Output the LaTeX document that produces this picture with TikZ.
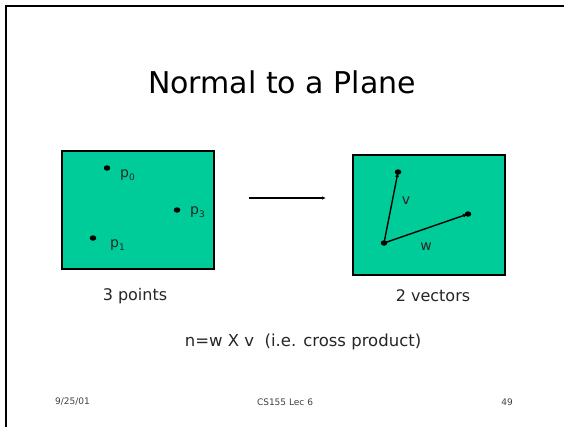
\documentclass[tikz,border=0pt]{standalone}
\usepackage{fontspec}
\setmainfont{DejaVu Sans}
\usetikzlibrary{arrows.meta,shapes.geometric}
\definecolor{plane}{HTML}{00CC99}
\newcommand{\sbs}[1]{\raisebox{-0.25em}{\fontsize{9}{10}\selectfont #1}}
\begin{document}
\begin{tikzpicture}[x=1pt,y=-1pt,
  planebox/.style={draw=black,line width=1.6pt,fill=plane},
  dot/.style={ellipse,fill=black,inner sep=0pt,minimum width=6.5pt,minimum height=5.5pt},
  lbl/.style={font=\fontsize{14}{16}\selectfont,inner sep=0pt,text=black!85},
  body/.style={font=\fontsize{16}{18}\selectfont,inner sep=0pt,text=black!85},
  vec/.style={line width=1.4pt,-{Latex[length=5pt,width=4pt]}},
  foot/.style={font=\fontsize{9}{10}\selectfont,text=black!75,inner sep=0pt}]
\useasboundingbox (0,0) rectangle (564,426);
\fill[white] (0,0) rectangle (564,426);
\draw[line width=2pt] (6,430) -- (6,6) -- (568,6);
\node[font=\fontsize{30}{36}\selectfont,inner sep=0pt] (title) at (282,82) {Normal to a Plane};
% left plane
\node[planebox,minimum width=152pt,minimum height=118pt,inner sep=0pt] (lbox) at (138,210) {};
\node[dot] (p0) at (107,168) {};
\node[dot] (p3) at (177,210) {};
\node[dot] (p1) at (93,238) {};
\node[lbl,anchor=west] (lp0) at (120,175) {p\sbs{0}};
\node[lbl,anchor=west] (lp3) at (190,212) {p\sbs{3}};
\node[lbl,anchor=west] (lp1) at (110,245) {p\sbs{1}};
% arrow
\coordinate (a1) at (249,198);
\coordinate (a2) at (326,198);
\draw[line width=1.2pt,-{Latex[length=4pt,width=3.5pt]}] (a1) -- (a2);
% right plane
\node[planebox,minimum width=152pt,minimum height=120pt,inner sep=0pt] (rbox) at (429,215) {};
\node[dot] (o) at (384,243) {};
\node[dot] (vend) at (398,172) {};
\node[dot] (wend) at (468,214) {};
\draw[vec] (o.center) -- (vend.center);
\draw[vec] (o.center) -- (wend.center);
\node[lbl] (lv) at (406,201) {v};
\node[lbl] (lw) at (426,247) {w};
\node[body] (t3) at (135,296) {3 points};
\node[body] (t2) at (433,296) {2 vectors};
\node[body,font=\fontsize{16.5}{18}\selectfont] (eq) at (303,342) {n=w X v\ \ (i.e. cross product)};
\node[foot,anchor=west] (f1) at (55,402) {9/25/01};
\node[foot] (f2) at (285,402) {CS155 Lec 6};
\node[foot,anchor=east] (f3) at (513,402) {49};
\end{tikzpicture}
\end{document}
